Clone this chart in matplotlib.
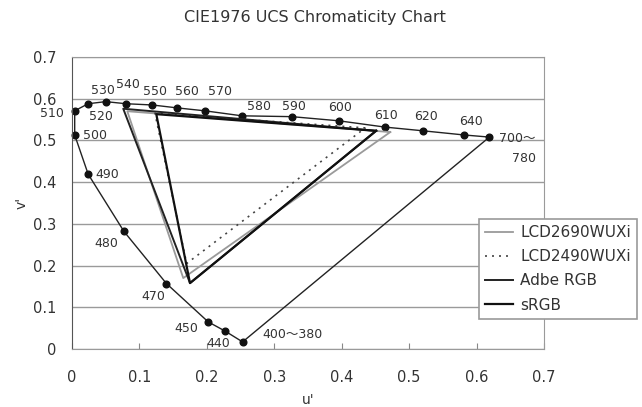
import matplotlib
matplotlib.use('Agg')
import matplotlib.pyplot as plt

plt.rcParams['font.family'] = ['DejaVu Sans', 'Noto Sans CJK JP']

# spectral locus (u', v')
wl_labels = ['400～380', '440', '450', '470', '480', '490', '500', '510', '520', '530', '540',
             '550', '560', '570', '580', '590', '600', '610', '620', '640', '700～\n780']
locus_u = [0.253, 0.227, 0.202, 0.140, 0.077, 0.024, 0.004, 0.004, 0.024, 0.050, 0.080,
           0.119, 0.156, 0.197, 0.252, 0.326, 0.396, 0.464, 0.521, 0.582, 0.619]
locus_v = [0.017, 0.043, 0.065, 0.157, 0.282, 0.419, 0.513, 0.571, 0.588, 0.593, 0.588,
           0.585, 0.578, 0.571, 0.559, 0.557, 0.547, 0.532, 0.523, 0.513, 0.508]

# label offsets in points (dx, dy) and alignment
lab_off = [(14, 5, 'left'), (-5, -9, 'center'), (-7, -5, 'right'), (-1, -9, 'right'),
           (-4, -9, 'right'), (5, 0, 'left'), (6, 0, 'left'), (-8, -2, 'right'),
           (9, -9, 'center'), (-2, 8, 'center'), (1.5, 14, 'center'), (2, 10, 'center'),
           (7, 12, 'center'), (11, 14, 'center'), (12, 6.5, 'center'), (1.5, 7, 'center'),
           (1, 9.5, 'center'), (1, 8.5, 'center'), (2, 10, 'center'), (5, 10, 'center'),
           (7, -8, 'left')]

# gamut triangles (R, G, B)
series = ['LCD2690WUXi', 'LCD2490WUXi', 'Adbe RGB', 'sRGB']
tri_u = [[0.472, 0.082, 0.165], [0.435, 0.123, 0.170], [0.451, 0.076, 0.175], [0.451, 0.125, 0.175]]
tri_v = [[0.520, 0.570, 0.170], [0.530, 0.565, 0.205], [0.523, 0.576, 0.158], [0.523, 0.563, 0.158]]
styles = [dict(color='#9a9a9a', lw=1.3, ls='-'),
          dict(color='#444444', lw=1.2, ls=(0, (1.2, 3))),
          dict(color='#222222', lw=1.4, ls='-'),
          dict(color='#111111', lw=1.6, ls='-')]

fig = plt.figure(figsize=(6.42, 4.07), dpi=100)
ax = fig.add_axes([72 / 642, 1 - 349 / 407, 472 / 642, 292 / 407])

ax.set_xlim(0, 0.7)
ax.set_ylim(0, 0.7)
ax.set_xticks([i / 10 for i in range(8)])
ax.set_yticks([i / 10 for i in range(8)])
ax.set_xticklabels(['0', '0.1', '0.2', '0.3', '0.4', '0.5', '0.6', '0.7'])
ax.set_yticklabels(['0', '0.1', '0.2', '0.3', '0.4', '0.5', '0.6', '0.7'])
ax.yaxis.grid(True, color='#9a9a9a', lw=1)
ax.set_axisbelow(True)
ax.tick_params(axis='x', direction='in', length=4, color='#888888', pad=15, labelsize=10.5, labelcolor='#333333')
ax.tick_params(axis='y', length=0, pad=11, labelsize=10.5, labelcolor='#333333')
for s in ax.spines.values():
    s.set_color('#9a9a9a')
ax.spines['left'].set_color('#555555')

# locus + purple line
ax.plot(locus_u + [locus_u[0]], locus_v + [locus_v[0]], color='#222222', lw=1)
ax.plot(locus_u, locus_v, 'o', color='#111111', ms=4.8, clip_on=False)
for u, v, t, (dx, dy, ha) in zip(locus_u, locus_v, wl_labels, lab_off):
    ax.annotate(t, (u, v), xytext=(dx, dy), textcoords='offset points', ha=ha, va='center',
                multialignment='right', fontsize=9, color='#333333', annotation_clip=False,
                linespacing=1.7)

for name, tu, tv, st in zip(series, tri_u, tri_v, styles):
    ax.plot(tu + [tu[0]], tv + [tv[0]], label=name, **st)

ax.set_title('CIE1976 UCS Chromaticity Chart', fontsize=11.5, color='#333333', pad=25,
             x=(315 - 72) / 472)
ax.set_xlabel("u'", fontsize=10, color='#333333', labelpad=6)
ax.set_ylabel("v'", fontsize=10, color='#333333', labelpad=3)

leg = fig.legend(loc='upper left', bbox_to_anchor=(479 / 642, 1 - 219 / 407), fontsize=11,
                 frameon=True, fancybox=False, edgecolor='#9a9a9a', framealpha=1,
                 borderaxespad=0, handlelength=1.85, handletextpad=0.45, borderpad=0.4,
                 labelspacing=0.6)
leg.get_frame().set_linewidth(1.2)
for t in leg.get_texts():
    t.set_color('#333333')

fig.savefig('out.png', dpi=100)
